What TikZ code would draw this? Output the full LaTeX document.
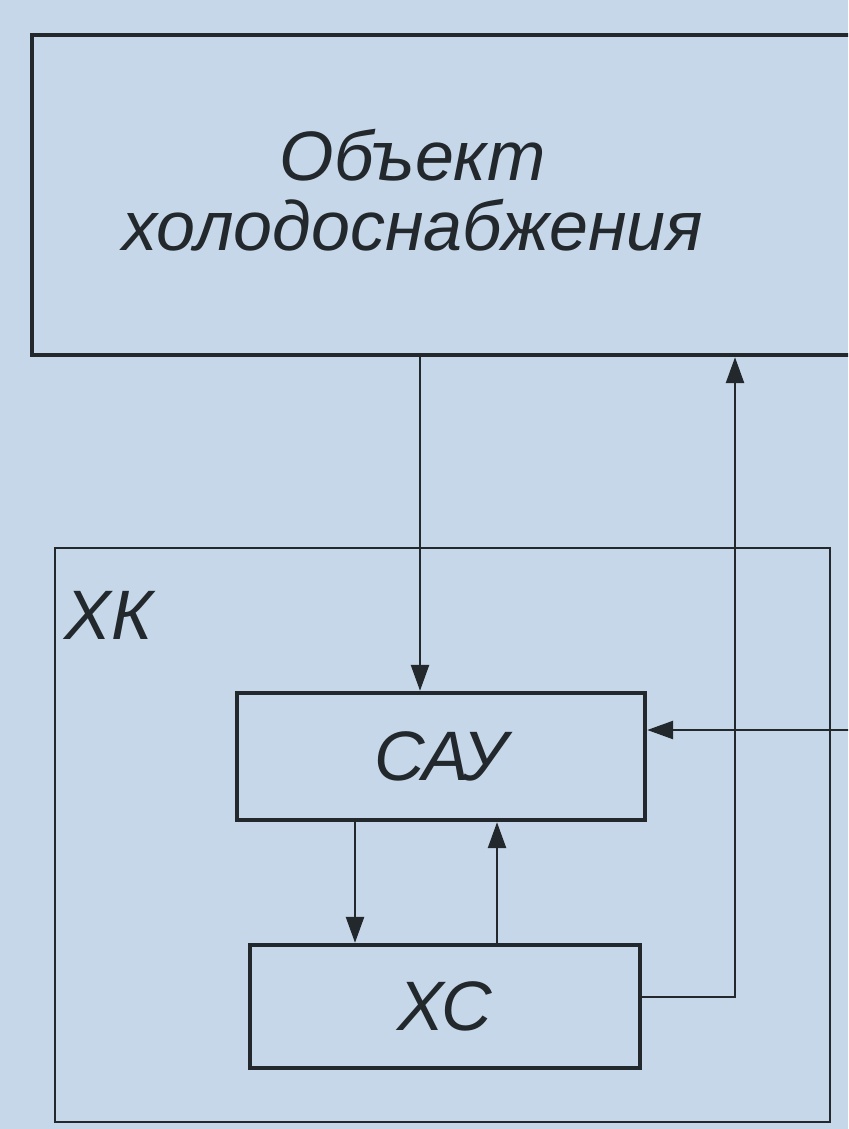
\documentclass[tikz,border=0pt]{standalone}
\usepackage{fontspec}
\setmainfont{Liberation Sans}
\usetikzlibrary{arrows.meta}
\definecolor{paper}{RGB}{198,215,233}
\definecolor{ink}{RGB}{34,40,44}
\begin{document}
\begin{tikzpicture}[x=0.5pt,y=-0.5pt,
  blk/.style={draw=ink,line width=2.2pt,rectangle,inner sep=0pt},
  lbl/.style={text=ink,inner sep=0pt,font=\itshape\fontsize{35}{35}\selectfont},
  arr/.style={draw=ink,line width=1.3pt,-{Triangle[length=13pt,width=9pt]}}]
\useasboundingbox (0,0) rectangle (848,1129);
\clip (0,0) rectangle (848,1129);
\fill[paper] (0,0) rectangle (848,1129);

\node[blk,minimum width=434pt,minimum height=160pt] (obj) at (466,195) {};
\node[lbl,align=center] (objtxt) at (413,190) {Объект\\холодоснабжения};

\node[draw=ink,line width=1.3pt,minimum width=387.5pt,minimum height=287pt] (xk) at (442.5,835) {};
\node[lbl,anchor=west] (xklbl) at (64,615) {ХК};

\node[blk,lbl,minimum width=204pt,minimum height=63.5pt] (sau) at (441,756.5) {САУ};
\node[blk,lbl,minimum width=195pt,minimum height=61.5pt] (xs) at (445,1006.5) {ХС};

\coordinate (xa) at (420,0);
\coordinate (xb) at (355,0);
\coordinate (xc) at (497,0);
\coordinate (xd) at (735,997);
\coordinate (inR) at (850,730);

\draw[arr] (obj.south -| xa) -- (sau.north -| xa);
\draw[arr] (sau.south -| xb) -- (xs.north -| xb);
\draw[arr] (xs.north -| xc) -- (sau.south -| xc);
\draw[arr] (xs.east |- xd) -- (xd) -- (obj.south -| xd);
\draw[arr] (inR) -- (sau.east |- inR);
\end{tikzpicture}
\end{document}
